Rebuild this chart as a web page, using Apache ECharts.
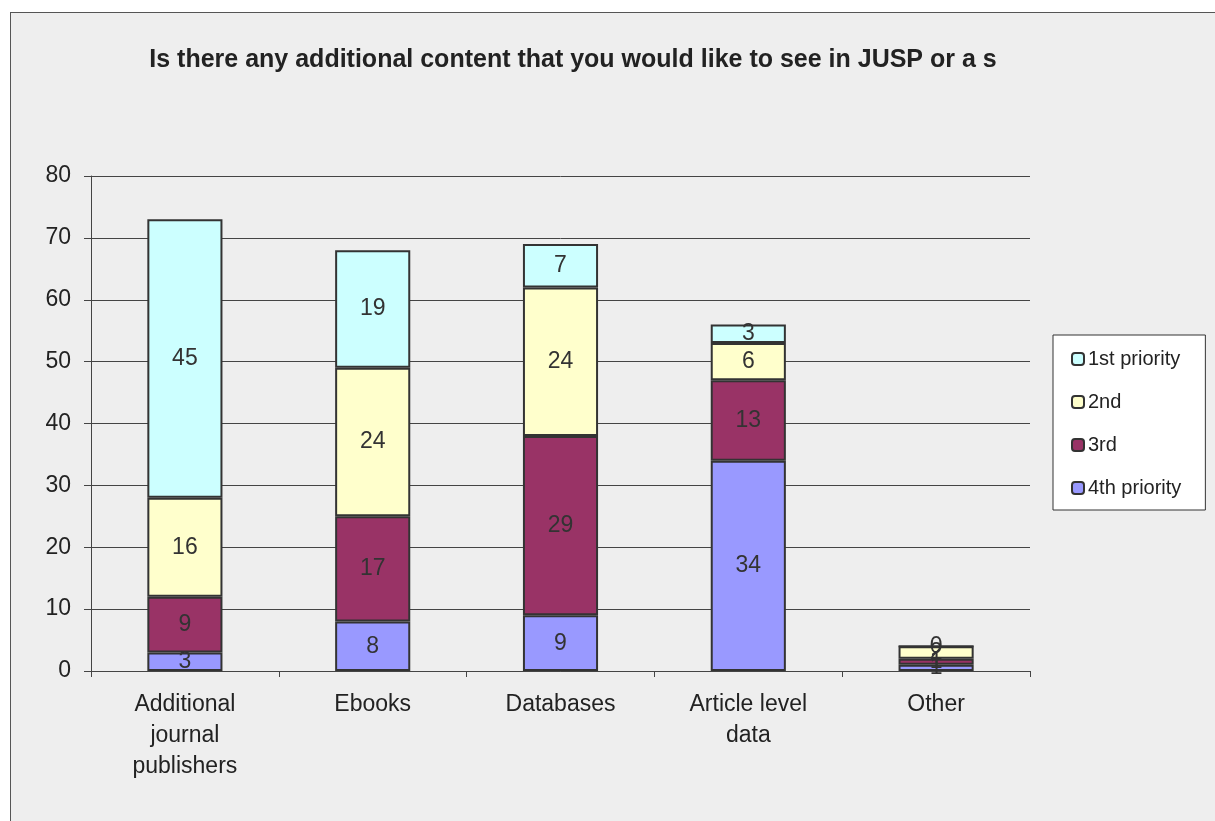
<!DOCTYPE html>
<html><head><meta charset="utf-8">
<script src="https://cdn.jsdelivr.net/npm/echarts@6/dist/echarts.min.js"></script>
<style>
html,body{margin:0;padding:0;background:#fff;}
#frame{position:absolute;left:10px;top:12px;width:1205px;height:809px;background:#EEEEEE;border-left:1px solid #555;border-top:1px solid #555;box-sizing:border-box;}
#main{position:absolute;left:0;top:0;width:1215px;height:821px;}
</style></head>
<body>
<div id="frame"></div>
<div id="main"></div>
<script>
const categories = ['Additional\njournal\npublishers', 'Ebooks', 'Databases', 'Article level\ndata', 'Other'];
const seriesNames = ['1st priority', '2nd', '3rd', '4th priority'];
const priority4 = [3, 8, 9, 34, 1];
const priority3 = [9, 17, 29, 13, 1];
const priority2 = [16, 24, 24, 6, 2];
const priority1 = [45, 19, 7, 3, 0];
const yTicks = { min: 0, max: 80, interval: 10 };
const titleText = 'Is there any additional content that you would like to see in JUSP or a s';

const colors = {'1st priority':'#CCFFFF','2nd':'#FFFFCC','3rd':'#993366','4th priority':'#9999FF'};
const dataMap = {'1st priority':priority1,'2nd':priority2,'3rd':priority3,'4th priority':priority4};
const stackOrder = ['4th priority','3rd','2nd','1st priority'];

const chart = echarts.init(document.getElementById('main'), null, {renderer:'canvas'});
chart.setOption({
  backgroundColor: 'transparent',
  animation: false,
  title: {
    text: titleText, left: 568, top: 43, textAlign: 'center',
    textStyle: { fontFamily: 'Liberation Sans, Arial, sans-serif', fontSize: 25, fontWeight: 'bold', color: '#222' }
  },
  legend: {
    data: seriesNames, orient: 'vertical', left: 1053, top: 335,
    backgroundColor: '#FFFFFF', borderColor: '#333', borderWidth: 1,
    padding: [14, 24, 12, 18], itemGap: 23, itemWidth: 12, itemHeight: 12,
    textStyle: { fontFamily: 'Liberation Sans, Arial, sans-serif', fontSize: 20, color: '#222', padding: [0,4,0,-1] }
  },
  grid: { left: 91, right: 185, top: 176, bottom: 150 },
  xAxis: {
    type: 'category', data: categories,
    axisLine: { lineStyle: { color: '#444', width: 1 } },
    axisTick: { show: true, alignWithLabel: false, length: 6, lineStyle: { color: '#444' } },
    axisLabel: { fontFamily: 'Liberation Sans, Arial, sans-serif', fontSize: 23, color: '#222', lineHeight: 31, margin: 18, interval: 0 }
  },
  yAxis: {
    type: 'value', min: yTicks.min, max: yTicks.max, interval: yTicks.interval,
    axisLine: { show: true, lineStyle: { color: '#444' } },
    axisTick: { show: true, length: 7, lineStyle: { color: '#444' } },
    splitLine: { lineStyle: { color: '#444', width: 1 } },
    axisLabel: { fontFamily: 'Liberation Sans, Arial, sans-serif', fontSize: 23, color: '#222', margin: 20 }
  },
  series: stackOrder.map(name => ({
    name: name, type: 'bar', stack: 'total', barWidth: '40%',
    data: dataMap[name],
    itemStyle: { color: colors[name], borderColor: '#333', borderWidth: 2 },
    label: { show: true, position: 'inside', fontFamily: 'Liberation Sans, Arial, sans-serif', fontSize: 23, color: '#333' }
  }))
});
</script>
</body></html>
